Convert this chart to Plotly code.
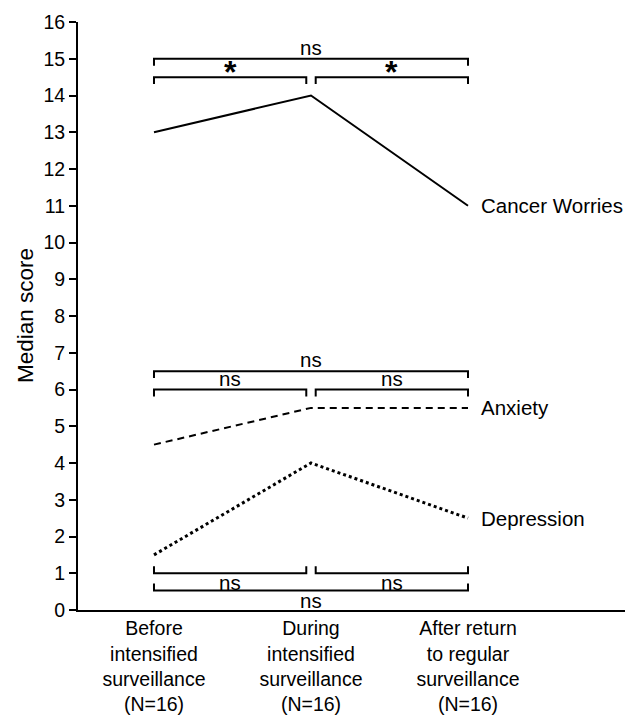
import plotly.graph_objects as go

# ---- data ----
categories = ["Before<br>intensified<br>surveillance<br>(N=16)",
              "During<br>intensified<br>surveillance<br>(N=16)",
              "After return<br>to regular<br>surveillance<br>(N=16)"]
x_pos = [0, 1, 2]
series_names = ["Cancer Worries", "Anxiety", "Depression"]
cancer_worries = [13, 14, 11]
anxiety = [4.5, 5.5, 5.5]
depression = [1.5, 4, 2.5]

# significance brackets: start, end, level, direction of end ticks (-1 down, +1 up), label
bracket_x0 = [0, 0, 1.03, 0, 0, 1.03, 0, 1.03, 0]
bracket_x1 = [2, 0.97, 2, 2, 0.97, 2, 0.97, 2, 2]
bracket_y = [15, 14.5, 14.5, 6.5, 6.0, 6.0, 1.0, 1.0, 0.53]
bracket_dir = [-1, -1, -1, -1, -1, -1, 1, 1, 1]
bracket_labels = ["ns", "*", "*", "ns", "ns", "ns", "ns", "ns", "ns"]

y_ticks = list(range(0, 17))
y_title = "Median score"

FONT = "Liberation Sans, Arial, Helvetica, sans-serif"

fig = go.Figure()

styles = [dict(dash="solid", width=2), dict(dash="7px,5px", width=2), dict(dash="dot", width=3)]
for name, vals, st in zip(series_names, [cancer_worries, anxiety, depression], styles):
    fig.add_trace(go.Scatter(x=x_pos, y=vals, mode="lines", name=name,
                             line=dict(color="black", width=st["width"], dash=st["dash"]),
                             showlegend=False, hoverinfo="skip"))
    fig.add_annotation(x=x_pos[-1], y=vals[-1], text=name, showarrow=False,
                       xanchor="left", yanchor="middle", xshift=11,
                       font=dict(family=FONT, size=20.5, color="black"))

tick_h = 0.19
for x0, x1, yb, d, lab in zip(bracket_x0, bracket_x1, bracket_y, bracket_dir, bracket_labels):
    fig.add_trace(go.Scatter(x=[x0, x0, x1, x1], y=[yb + d * tick_h, yb, yb, yb + d * tick_h],
                             mode="lines", line=dict(color="black", width=2),
                             showlegend=False, hoverinfo="skip"))
    if lab == "*":
        fig.add_annotation(x=(x0 + x1) / 2, y=yb, text="<b>*</b>", showarrow=False,
                           yanchor="bottom", yshift=-15,
                           font=dict(family=FONT, size=32, color="black"))
    else:
        fig.add_annotation(x=(x0 + x1) / 2, y=yb, text=lab, showarrow=False,
                           yanchor="bottom" if d < 0 else "top",
                           yshift=-2 if d < 0 else 4,
                           font=dict(family=FONT, size=20.5, color="black"))

fig.add_annotation(x=0, y=0.5, xref="paper", yref="paper", text=y_title,
                   textangle=-90, showarrow=False, xanchor="center", yanchor="middle",
                   xshift=-53, font=dict(family=FONT, size=22.5, color="black"))

fig.update_layout(
    width=638, height=716,
    margin=dict(l=78, r=13, t=22, b=106),
    paper_bgcolor="white", plot_bgcolor="white",
    font=dict(family=FONT, size=19, color="black"),
    xaxis=dict(range=[-0.484, 3.0], tickvals=x_pos, ticktext=categories,
               showgrid=False, zeroline=False, showline=True, linecolor="black",
               linewidth=2, ticks="", tickfont=dict(size=19.5), automargin=False),
    yaxis=dict(range=[0, 16], tickvals=y_ticks, showgrid=False, zeroline=False,
               showline=True, linecolor="black", linewidth=2, ticks="outside",
               ticklen=7, tickwidth=2, tickcolor="black", tickfont=dict(size=19.5),
               automargin=False),
)

fig.write_html("out.html", config={"displayModeBar": False},
               post_script="document.body.style.margin='0px';document.body.style.overflow='hidden';")
